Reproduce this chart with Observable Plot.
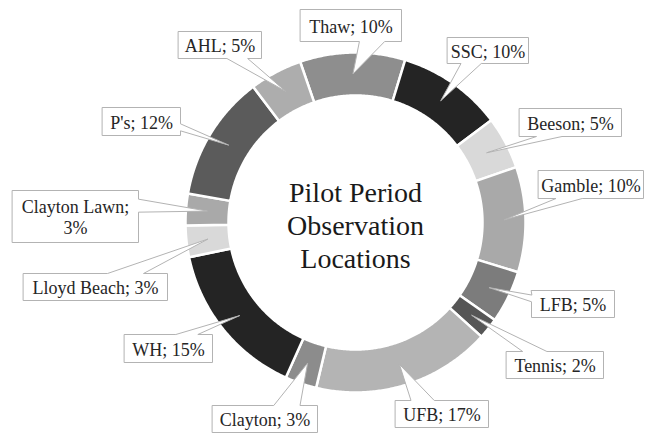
<!DOCTYPE html>
<html>
<head>
<meta charset="utf-8">
<script src="https://cdn.jsdelivr.net/npm/d3@7"></script>
<script src="https://cdn.jsdelivr.net/npm/@observablehq/plot@0.6"></script>
<style>
  html, body { margin: 0; padding: 0; background: #fff; }
  #chart { width: 645px; height: 434px; }
</style>
</head>
<body>
<div id="chart"></div>
<script>
// ---- data ----
const names  = ["Thaw", "SSC", "Beeson", "Gamble", "LFB", "Tennis", "UFB", "Clayton", "WH", "Lloyd Beach", "Clayton Lawn", "P's", "AHL"];
const values = [10, 10, 5, 10, 5, 2, 17, 3, 15, 3, 3, 12, 5];
const colors = ["#8e8e8e", "#242424", "#d9d9d9", "#a9a9a9", "#7c7c7c", "#565656", "#b4b4b4", "#8c8c8c", "#242424", "#d9d9d9", "#a9a9a9", "#5b5b5b", "#adadad"];
const labelTexts = ["Thaw; 10%", "SSC; 10%", "Beeson; 5%", "Gamble; 10%", "LFB; 5%", "Tennis; 2%", "UFB; 17%", "Clayton; 3%", "WH; 15%", "Lloyd Beach; 3%", "Clayton Lawn;\n3%", "P's; 12%", "AHL; 5%"];
const centerTitle = "Pilot Period\nObservation\nLocations";

// ---- layout (pixels) ----
const W = 645, H = 434;
const cx = 355, cy = 222, rOut = 170, rIn = 127, startAngle = -19;
// label boxes [x0, y0, x1, y1]
const labelBoxes = [
  [300, 9, 401, 41],
  [447, 37, 528, 63],
  [519, 108, 621, 136],
  [538, 170, 643, 198],
  [531, 290, 614, 317],
  [506, 351, 603, 378],
  [395, 400, 488, 427],
  [212, 405, 317, 432],
  [124, 334, 212, 362],
  [23, 273, 167, 300],
  [12, 190, 138, 242],
  [102, 107, 180, 135],
  [178, 31, 261, 58]
];

const total = d3.sum(values);
const polar = (deg, r) => {
  const a = deg * Math.PI / 180;
  return [cx + r * Math.sin(a), cy - r * Math.cos(a)];
};

// slice polygons
const ringPts = [];
const slices = [];
let acc = 0;
names.forEach((name, i) => {
  const a0 = startAngle + acc / total * 360;
  acc += values[i];
  const a1 = startAngle + acc / total * 360;
  slices.push({name, a0, a1, mid: (a0 + a1) / 2});
  const n = Math.max(2, Math.ceil((a1 - a0) / 0.5));
  for (let k = 0; k <= n; k++) {
    const [x, y] = polar(a0 + (a1 - a0) * k / n, rOut);
    ringPts.push({name, x, y});
  }
  for (let k = n; k >= 0; k--) {
    const [x, y] = polar(a0 + (a1 - a0) * k / n, rIn);
    ringPts.push({name, x, y});
  }
});

// callout polygons (rectangle + wedge pointing at slice middle)
const calloutPts = [];
const labelPos = [];
slices.forEach((s, i) => {
  const [x0, y0, x1, y1] = labelBoxes[i];
  const w = x1 - x0, h = y1 - y0, hc = (x0 + x1) / 2, vc = (y0 + y1) / 2;
  const [tx, ty] = polar(s.mid, (rIn + rOut) / 2);
  const dx = tx - hc, dy = ty - vc;
  const dq = dx * h / w;
  const xa = x0 + w * (dx > 0 ? 7 : 2) / 12, xb = x0 + w * (dx > 0 ? 10 : 5) / 12;
  const ya = y0 + h * (dy > 0 ? 7 : 2) / 12, yb = y0 + h * (dy > 0 ? 10 : 5) / 12;
  let edge;
  if (Math.abs(dq) > Math.abs(dy)) edge = dx > 0 ? "right" : "left";
  else edge = dy > 0 ? "bottom" : "top";
  const p = [];
  p.push([x0, y0]);
  if (edge === "top") p.push([xa, y0], [tx, ty], [xb, y0]);
  p.push([x1, y0]);
  if (edge === "right") p.push([x1, ya], [tx, ty], [x1, yb]);
  p.push([x1, y1]);
  if (edge === "bottom") p.push([xb, y1], [tx, ty], [xa, y1]);
  p.push([x0, y1]);
  if (edge === "left") p.push([x0, yb], [tx, ty], [x0, ya]);
  p.forEach(([x, y]) => calloutPts.push({name: s.name, x, y}));
  labelPos.push({text: labelTexts[i], x: hc, y: vc + 0.5});
});

const font = "Liberation Serif";

const chart = Plot.plot({
  width: W,
  height: H,
  margin: 0,
  x: {domain: [0, W], range: [0, W], axis: null},
  y: {domain: [0, H], range: [0, H], axis: null},
  color: {type: "ordinal", domain: names, range: colors},
  style: {background: "#fff", fontFamily: font},
  marks: [
    Plot.line(ringPts, {x: "x", y: "y", z: "name", fill: "name", stroke: "#fff", strokeWidth: 2.5, curve: "linear-closed"}),
    Plot.line(calloutPts, {x: "x", y: "y", z: "name", fill: "#fff", stroke: "#b3b3b3", strokeWidth: 1, curve: "linear-closed", strokeLinejoin: "miter"}),
    Plot.text(labelPos, {x: "x", y: "y", text: "text", fontSize: 18, fontFamily: font, fill: "#262626", lineHeight: 1.17}),
    Plot.text([centerTitle], {x: () => cx, y: () => cy + 2, text: d => d, fontSize: 28, fontFamily: font, fill: "#1a1a1a", lineHeight: 1.17})
  ]
});
d3.select(chart).attr("font-family", font);
d3.select(chart).selectAll("text, tspan").attr("font-family", font);
document.getElementById("chart").appendChild(chart);
</script>
</body>
</html>
